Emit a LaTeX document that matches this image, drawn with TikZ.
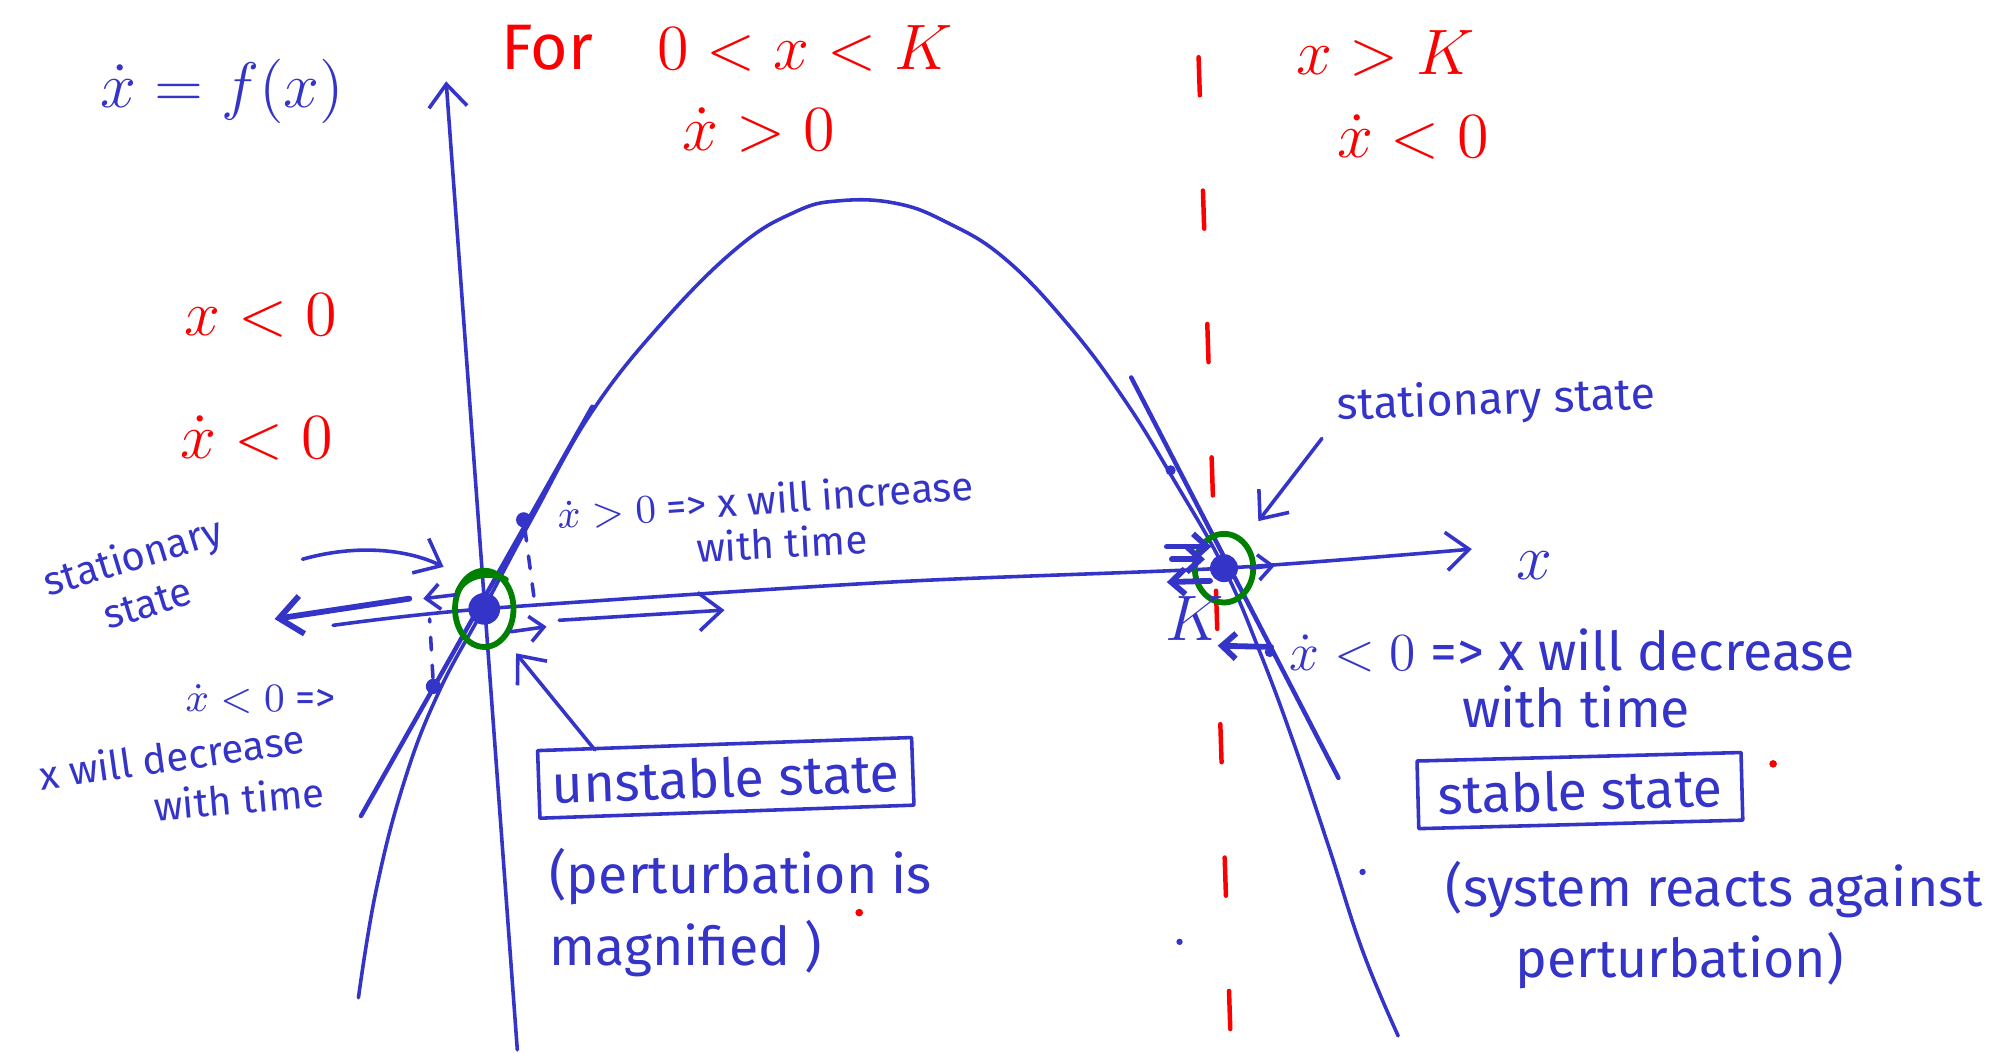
\documentclass[tikz,border=0pt]{standalone}
\usepackage{amsmath,amssymb}
\usepackage{fontspec}
\setmainfont{Fira Sans}
\usepackage{tikz}
\usetikzlibrary{arrows.meta}
\definecolor{ink}{RGB}{52,52,200}
\definecolor{redink}{RGB}{250,0,0}
\definecolor{greenink}{RGB}{0,128,0}
\begin{document}
\begin{tikzpicture}[x=0.1mm,y=-0.1mm,line cap=round,line join=round,
>={Straight Barb[length=1.8mm,width=3mm]},
pen/.style={ink,line width=0.8pt},
fatpen/.style={ink,line width=1.3pt},
tiny/.style={-{Straight Barb[length=1.1mm,width=2mm]}},
loop/.style={greenink,line width=1.3pt},
redtxt/.style={text=redink,font=\Large},
bluetxt/.style={text=ink,font=\small},
statebox/.style={draw=ink,line width=0.8pt,text=ink,font=\large,inner sep=3pt},
dot/.style={shape=circle,fill=ink,inner sep=0pt,minimum size=#1}]
\useasboundingbox (0,0) rectangle (1568,828);
\draw[redink,line width=1pt,dash pattern=on 3mm off 7.5mm](943,45)--(968,812);
\draw[pen,->](407,826)--(351,64);
\draw[pen,->]plot[smooth]coordinates{(262,492)(381,479)(700,458)(963,447)(1158,432)};
\draw[pen]plot[smooth,tension=0.7]coordinates{(282,785)(296,700)(318,615)(345,545)(381,478)(420,405)(465,325)(520,255)(580,195)(625,167)(660,158)(705,160)(745,175)(790,203)(840,255)(885,315)(925,380)(963,447)(992,515)(1018,585)(1045,665)(1072,748)(1100,815)};
\draw[pen,line width=1pt](284,642)--(466,320);
\draw[pen,line width=1pt](890,297)--(1053,612);
\node[dot=2.5mm] (unst) at (381,479) {};
\node[dot=2.2mm] (stab) at (963,447) {};
\node[dot=1.2mm] (pa) at (412,409) {};
\node[dot=1.2mm] (pb) at (341,540) {};
\node[dot=0.8mm] (pc) at (921,370) {};
\node[dot=0.8mm] (pd) at (999,513) {};
\coordinate (pafoot) at (420,469);
\coordinate (pbfoot) at (338,487);
\draw[pen,dash pattern=on 1mm off 1.2mm](pa)--(pafoot);
\draw[pen,dash pattern=on 1mm off 1.2mm](pb)--(pbfoot);
\draw[loop](unst) ellipse (2.3mm and 3mm);
\draw[loop](360,466) .. controls (366,452) and (386,449) .. (398,456);
\draw[loop](stab) ellipse (2.3mm and 2.7mm);
\draw[fatpen,->](322,471)--(216,487);
\draw[pen,tiny](358,468)--(333,471);
\draw[pen,->](238,440) .. controls (280,428) and (320,432) .. (349,446);
\draw[pen,tiny](402,497)--(430,493);
\draw[pen,->](440,488)--(570,480);
\draw[fatpen,tiny](918,430)--(953,430);
\draw[fatpen,tiny](922,440)--(948,440);
\draw[fatpen,tiny](952,457)--(918,458);
\draw[pen,tiny](984,447)--(1003,445);
\draw[fatpen,tiny](1000,509)--(958,508);
\node[text=ink,font=\Large] (fx) at (175,72) {$\dot{x}=f(x)$};
\node[redtxt] (cond) at (572,38) {For\quad $0<x<K$};
\node[redtxt] (midd) at (597,102) {$\dot{x}>0$};
\node[redtxt] (rcond) at (1090,42) {$x>K$};
\node[redtxt] (rdot) at (1112,108) {$\dot{x}<0$};
\node[redtxt] (lcond) at (205,248) {$x<0$};
\node[redtxt] (ldot) at (202,345) {$\dot{x}<0$};
\node[bluetxt,rotate=17,align=center] (lstat) at (110,455) {stationary\\state};
\node[bluetxt] (ldec1) at (205,550) {$\dot{x}<0$ =>};
\node[bluetxt,rotate=8] (ldec2) at (135,595) {x will decrease};
\node[bluetxt,rotate=5] (ldec3) at (188,628) {with time};
\node[bluetxt,rotate=4] (inc1) at (602,393) {$\dot{x}>0$ => x will increase};
\node[bluetxt,rotate=3] (inc2) at (615,427) {with time};
\node[bluetxt,font=\normalsize,rotate=2] (rstat) at (1177,316) {stationary state};
\node[text=ink,font=\Large] (xlab) at (1207,445) {$x$};
\node[text=ink,font=\Large] (klab) at (940,487) {$K$};
\node[bluetxt,font=\large] (dec1) at (1237,512) {$\dot{x}<0$ => x will decrease};
\node[bluetxt,font=\large] (dec2) at (1240,556) {with time};
\node[statebox,rotate=2,minimum width=27.8mm,minimum height=5mm] (ubox) at (571,612) {unstable state};
\node[text=ink,font=\large,align=left,anchor=north west] (unote) at (420,655) {(perturbation is\\[2pt]magnified )};
\node[statebox,rotate=1.5,minimum width=25.5mm,minimum height=5.2mm] (sbox) at (1243,622) {stable state};
\node[text=ink,font=\large,align=left,anchor=north west] (snote) at (1125,665) {(system reacts against\\[2pt]\hspace*{1.3em}perturbation)};
\coordinate (utail) at (468,590);
\coordinate (uhead) at (406,514);
\draw[pen,->](utail)--(uhead);
\coordinate (stail) at (1040,345);
\coordinate (shead) at (990,410);
\draw[pen,->](stail)--(shead);
\node[shape=circle,fill=redink,inner sep=0pt,minimum size=0.6mm] (rspeck1) at (1395,601) {};
\node[shape=circle,fill=redink,inner sep=0pt,minimum size=0.6mm] (rspeck2) at (676,718) {};
\node[shape=circle,fill=ink,inner sep=0pt,minimum size=0.5mm] (bspeck1) at (1072,686) {};
\node[shape=circle,fill=ink,inner sep=0pt,minimum size=0.5mm] (bspeck2) at (928,741) {};
\end{tikzpicture}
\end{document}
